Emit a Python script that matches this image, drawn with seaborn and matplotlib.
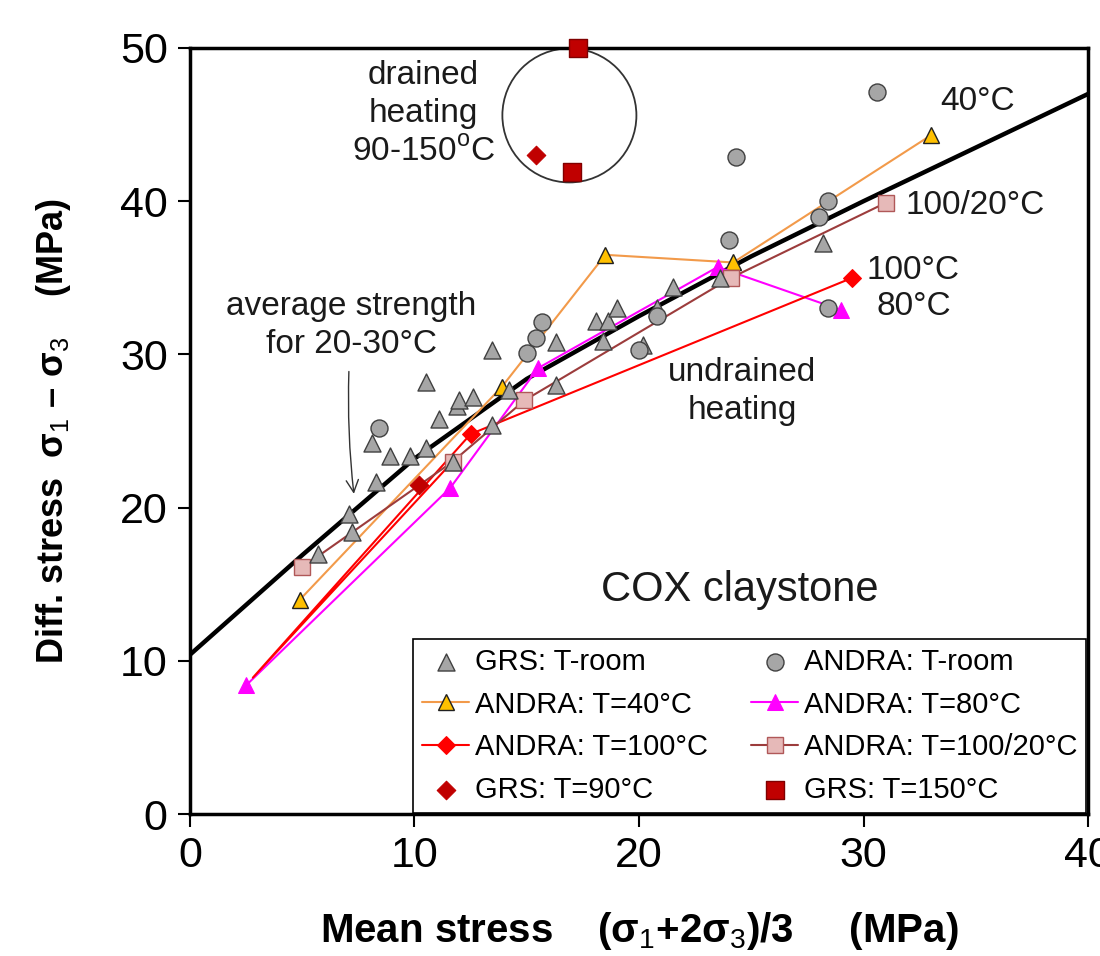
import matplotlib
matplotlib.use("Agg")
import matplotlib.pyplot as plt
import seaborn as sns
from matplotlib.patches import Ellipse

# ---- data ----
curve_x = [0, 5, 10, 15, 20, 25, 30, 35, 40]
curve_y = [10.4, 16.9, 23.2, 28.4, 32.5, 36.4, 40.0, 43.5, 47.0]

grs_room_x = [5.7, 7.1, 7.2, 8.3, 8.1, 8.9, 9.8, 10.5, 10.5, 11.1, 11.9, 12.0, 12.6, 11.7,
              13.45, 13.45, 14.2, 16.3, 16.3, 18.1, 18.6, 19.0, 18.4, 20.2, 20.8, 21.5, 23.6, 28.2]
grs_room_y = [17.0, 19.6, 18.4, 21.7, 24.2, 23.4, 23.4, 23.9, 28.2, 25.8, 26.6, 27.0, 27.2, 23.0,
              25.4, 30.3, 27.7, 28.0, 30.8, 32.2, 32.2, 33.0, 30.9, 30.6, 33.0, 34.4, 35.0, 37.3]

andra_room_x = [8.4, 15.0, 15.4, 15.7, 20.0, 20.8, 24.0, 24.3, 28.0, 28.4, 28.4, 30.6]
andra_room_y = [25.2, 30.1, 31.1, 32.1, 30.3, 32.5, 37.5, 42.9, 39.0, 40.0, 33.0, 47.1]

andra40_x = [4.9, 13.9, 18.5, 24.2, 33.0]
andra40_y = [14.0, 27.9, 36.5, 36.0, 44.3]

andra80_x = [2.5, 11.6, 15.5, 23.5, 29.0]
andra80_y = [8.4, 21.3, 29.1, 35.7, 32.9]

andra100_x = [11.7, 2.8, 12.5, 29.5]
andra100_y = [23.0, 8.9, 24.8, 35.0]

andra10020_x = [5.0, 11.7, 14.9, 24.1, 31.0]
andra10020_y = [16.1, 23.0, 27.0, 35.0, 39.9]

grs90_x = [10.2, 15.4]
grs90_y = [21.5, 43.0]

grs150_x = [17.3, 17.0]
grs150_y = [50.0, 41.9]

# ---- style ----
sns.set_style("ticks")
plt.rcParams["font.family"] = ["Liberation Sans", "DejaVu Sans"]
plt.rcParams["mathtext.fontset"] = "custom"
plt.rcParams["mathtext.rm"] = "Liberation Sans"
plt.rcParams["mathtext.bf"] = "Liberation Sans:bold"
plt.rcParams["text.color"] = "black"
plt.rcParams["axes.labelcolor"] = "black"
plt.rcParams["xtick.color"] = "black"
plt.rcParams["ytick.color"] = "black"

fig = plt.figure(figsize=(11, 9.56), dpi=100)
ax = fig.add_axes([0.1727, 0.1485, 0.8164, 0.8013])

gray_face = "#a6a6a6"
gray_edge = "#404040"

# average strength curve
sns.lineplot(x=curve_x, y=curve_y, ax=ax, color="black", lw=3.2, sort=False, zorder=2)

# lines with markers
sns.lineplot(x=andra40_x, y=andra40_y, ax=ax, sort=False, color="#f29a4a", lw=1.5,
             marker="^", markersize=11, markerfacecolor="#ffc000", markeredgecolor="#202020",
             markeredgewidth=1, label="ANDRA: T=40°C", zorder=3)
sns.lineplot(x=andra80_x, y=andra80_y, ax=ax, sort=False, color="#ff00ff", lw=1.5,
             marker="^", markersize=11, markerfacecolor="#ff00ff", markeredgecolor="#ff00ff",
             label="ANDRA: T=80°C", zorder=3)
sns.lineplot(x=andra100_x, y=andra100_y, ax=ax, sort=False, color="#ff0000", lw=1.5,
             marker="D", markersize=9, markerfacecolor="#ff0000", markeredgecolor="#ff0000",
             markevery=[2, 3], label="ANDRA: T=100°C", zorder=3)
sns.lineplot(x=andra10020_x, y=andra10020_y, ax=ax, sort=False, color="#9c3c3c", lw=1.5,
             marker="s", markersize=11, markerfacecolor="#e6b9b8", markeredgecolor="#b05858",
             markeredgewidth=1, label="ANDRA: T=100/20°C", zorder=3)

# scatter sets
sns.scatterplot(x=grs_room_x, y=grs_room_y, ax=ax, marker="^", s=150, color=gray_face,
                edgecolor=gray_edge, linewidth=1, label="GRS: T-room", zorder=4)
sns.scatterplot(x=andra_room_x, y=andra_room_y, ax=ax, marker="o", s=150, color=gray_face,
                edgecolor=gray_edge, linewidth=1, label="ANDRA: T-room", zorder=4)
sns.scatterplot(x=grs90_x, y=grs90_y, ax=ax, marker="D", s=90, color="#c00000",
                edgecolor="#c00000", label="GRS: T=90°C", zorder=5)
sns.scatterplot(x=grs150_x, y=grs150_y, ax=ax, marker="s", s=150, color="#c00000",
                edgecolor="#800000", linewidth=1, label="GRS: T=150°C", zorder=5, clip_on=False)

# drained heating circle
ax.add_patch(Ellipse((16.9, 45.6), 5.97, 8.75, fill=False, edgecolor="#333333", lw=1.3, zorder=1))

# ---- annotations ----
tfs = 24
tc = "#1a1a1a"
ax.text(10.4, 45.7, "drained\nheating\n90-150$^\\mathrm{o}$C", ha="center", va="center",
        fontsize=tfs, linespacing=1.3, color=tc)
ax.text(33.4, 46.5, "40°C", ha="left", va="center", fontsize=tfs, color=tc)
ax.text(31.85, 39.7, "100/20°C", ha="left", va="center", fontsize=tfs, color=tc)
ax.text(30.15, 35.5, "100°C", ha="left", va="center", fontsize=tfs, color=tc)
ax.text(30.6, 33.1, "80°C", ha="left", va="center", fontsize=tfs, color=tc)
ax.text(24.6, 27.6, "undrained\nheating", ha="center", va="center", fontsize=tfs,
        linespacing=1.3, color=tc)
ax.text(24.5, 14.6, "COX claystone", ha="center", va="center", fontsize=30, color=tc)
ax.annotate("average strength\nfor 20-30°C", xy=(7.3, 20.9), xytext=(7.2, 31.9),
            ha="center", va="center", fontsize=tfs, linespacing=1.3, color=tc,
            arrowprops=dict(arrowstyle="->", color="#333333", lw=1,
                            connectionstyle="arc3,rad=0.05", shrinkA=6, shrinkB=0,
                            mutation_scale=22))

# ---- axes ----
ax.set_xlim(0, 40)
ax.set_ylim(0, 50)
ax.set_xticks([0, 10, 20, 30, 40])
ax.set_yticks([0, 10, 20, 30, 40, 50])
ax.tick_params(direction="out", length=9, width=1.5, labelsize=31, pad=7)
for sp in ax.spines.values():
    sp.set_visible(True)
    sp.set_linewidth(2.5)
    sp.set_color("black")

ax.set_xlabel("Mean stress    (σ$_1$+2σ$_3$)/3     (MPa)", fontsize=29, fontweight="bold", labelpad=24)
ax.set_ylabel("Diff. stress  σ$_1$ – σ$_3$    (MPa)", fontsize=26, fontweight="bold", labelpad=34)

# legend (column-wise order to match the reference)
handles, labels = ax.get_legend_handles_labels()
order = ["GRS: T-room", "ANDRA: T=40°C", "ANDRA: T=100°C", "GRS: T=90°C",
         "ANDRA: T-room", "ANDRA: T=80°C", "ANDRA: T=100/20°C", "GRS: T=150°C"]
hmap = dict(zip(labels, handles))
leg = ax.legend([hmap[k] for k in order], order, ncol=2, loc="lower right",
                bbox_to_anchor=(0.998, 0.002), borderaxespad=0, fontsize=21, frameon=True,
                fancybox=False, edgecolor="black", framealpha=1, handlelength=1.6,
                handletextpad=0.2, columnspacing=1.5, borderpad=0.3, labelspacing=0.5)
leg.get_frame().set_linewidth(1.2)

fig.savefig("out.png", dpi=100)
